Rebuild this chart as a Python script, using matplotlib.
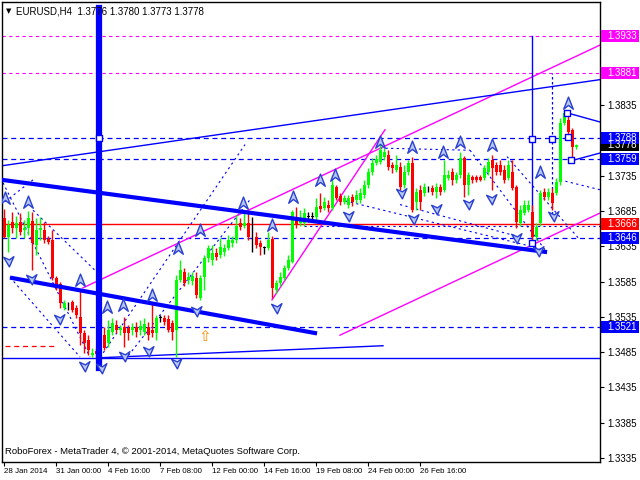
import numpy as np
import matplotlib.pyplot as plt
from matplotlib.path import Path
from matplotlib.patches import Rectangle
from matplotlib.transforms import blended_transform_factory

# EURUSD H4 candles
opens = [1.3675, 1.3648, 1.3669, 1.3661, 1.3669, 1.3658, 1.3661, 1.3671, 1.3637, 1.3658,
         1.3658, 1.3645, 1.3644, 1.3590, 1.3582, 1.3548, 1.3553, 1.3556, 1.3548, 1.3535,
         1.3512, 1.3502, 1.3481, 1.3486, 1.3478, 1.3509, 1.3498, 1.3514, 1.3523, 1.3516,
         1.3521, 1.3519, 1.3516, 1.3521, 1.3516, 1.3514, 1.3521, 1.3516, 1.3512, 1.3534,
         1.3534, 1.3532, 1.3526, 1.3516, 1.3587, 1.3599, 1.3587, 1.3586, 1.3590, 1.3562,
         1.3591, 1.3618, 1.3616, 1.3626, 1.3623, 1.3627, 1.3633, 1.3640, 1.3644, 1.3668,
         1.3664, 1.3668, 1.3648, 1.3648, 1.3640, 1.3633, 1.3633, 1.3645, 1.3573, 1.3583,
         1.3590, 1.3604, 1.3613, 1.3675, 1.3668, 1.3668, 1.3677, 1.3677, 1.3677, 1.3692,
         1.3689, 1.3694, 1.3689, 1.3719, 1.3706, 1.3698, 1.3694, 1.3705, 1.3701, 1.3701,
         1.3708, 1.3722, 1.3740, 1.3753, 1.3754, 1.3762, 1.3764, 1.3750, 1.3743, 1.3747,
         1.3722, 1.3740, 1.3753, 1.3698, 1.3715, 1.3711, 1.3716, 1.3718, 1.3712, 1.3719,
         1.3715, 1.3732, 1.3740, 1.3729, 1.3736, 1.3760, 1.3722, 1.3733, 1.3733, 1.3733,
         1.3732, 1.3740, 1.3757, 1.3750, 1.3750, 1.3743, 1.3732, 1.3740, 1.3719, 1.3668,
         1.3682, 1.3686, 1.3684, 1.3648, 1.3668, 1.3712, 1.3705, 1.3711, 1.3711, 1.3726,
         1.3810, 1.3814, 1.3800, 1.3776]
highs = [1.3688, 1.3672, 1.3684, 1.3678, 1.3682, 1.3672, 1.3685, 1.3684, 1.3675, 1.3677,
         1.3669, 1.3650, 1.3658, 1.3593, 1.3584, 1.3559, 1.3556, 1.3559, 1.3552, 1.3573,
         1.3516, 1.3509, 1.3491, 1.3491, 1.3509, 1.3521, 1.3531, 1.3534, 1.3531, 1.3523,
         1.3535, 1.3523, 1.3526, 1.3528, 1.3531, 1.3534, 1.3528, 1.3555, 1.3538, 1.3538,
         1.3538, 1.3538, 1.3531, 1.3594, 1.3616, 1.3604, 1.3599, 1.3599, 1.3599, 1.3594,
         1.3623, 1.3637, 1.3637, 1.3633, 1.3647, 1.3638, 1.3651, 1.3650, 1.3679, 1.3675,
         1.3684, 1.3682, 1.3677, 1.3655, 1.3644, 1.3635, 1.3655, 1.3650, 1.3587, 1.3599,
         1.3609, 1.3623, 1.3686, 1.3691, 1.3686, 1.3689, 1.3684, 1.3684, 1.3703, 1.3711,
         1.3705, 1.3701, 1.3736, 1.3722, 1.3711, 1.3708, 1.3708, 1.3709, 1.3715, 1.3718,
         1.3729, 1.3746, 1.3760, 1.3764, 1.3781, 1.3774, 1.3771, 1.3754, 1.3764, 1.3754,
         1.3750, 1.3757, 1.3762, 1.3718, 1.3722, 1.3725, 1.3720, 1.3722, 1.3725, 1.3723,
         1.3757, 1.3743, 1.3746, 1.3740, 1.3769, 1.3763, 1.3740, 1.3736, 1.3736, 1.3736,
         1.3750, 1.3760, 1.3764, 1.3754, 1.3757, 1.3750, 1.3757, 1.3757, 1.3722, 1.3694,
         1.3701, 1.3701, 1.3694, 1.3668, 1.3715, 1.3718, 1.3718, 1.3718, 1.3732, 1.3817,
         1.3828, 1.3824, 1.3803, 1.3780]
lows = [1.3647, 1.3627, 1.3654, 1.3647, 1.3651, 1.3647, 1.3651, 1.3601, 1.3623, 1.3644,
        1.3640, 1.3638, 1.3587, 1.3573, 1.3548, 1.3545, 1.3545, 1.3542, 1.3534, 1.3495,
        1.3484, 1.3481, 1.3478, 1.3478, 1.3474, 1.3488, 1.3492, 1.3509, 1.3512, 1.3509,
        1.3492, 1.3502, 1.3509, 1.3506, 1.3509, 1.3509, 1.3502, 1.3506, 1.3502, 1.3528,
        1.3523, 1.3514, 1.3502, 1.3478, 1.3584, 1.3579, 1.3582, 1.3580, 1.3562, 1.3559,
        1.3573, 1.3613, 1.3609, 1.3616, 1.3618, 1.3621, 1.3630, 1.3634, 1.3640, 1.3658,
        1.3661, 1.3644, 1.3627, 1.3633, 1.3623, 1.3624, 1.3630, 1.3562, 1.3569, 1.3579,
        1.3587, 1.3601, 1.3611, 1.3661, 1.3664, 1.3664, 1.3669, 1.3672, 1.3672, 1.3684,
        1.3686, 1.3684, 1.3686, 1.3701, 1.3694, 1.3695, 1.3689, 1.3692, 1.3696, 1.3696,
        1.3703, 1.3718, 1.3736, 1.3750, 1.3752, 1.3757, 1.3743, 1.3739, 1.3740, 1.3715,
        1.3718, 1.3736, 1.3684, 1.3686, 1.3686, 1.3706, 1.3712, 1.3708, 1.3703, 1.3708,
        1.3712, 1.3729, 1.3722, 1.3725, 1.3732, 1.3705, 1.3708, 1.3725, 1.3726, 1.3728,
        1.3729, 1.3736, 1.3715, 1.3736, 1.3736, 1.3725, 1.3729, 1.3715, 1.3661, 1.3664,
        1.3679, 1.3684, 1.3640, 1.3644, 1.3664, 1.3701, 1.3701, 1.3686, 1.3708, 1.3722,
        1.3807, 1.3793, 1.3762, 1.3773]
closes = [1.3648, 1.3665, 1.3661, 1.3668, 1.3655, 1.3661, 1.3675, 1.3640, 1.3658, 1.3661,
          1.3644, 1.3641, 1.3590, 1.3580, 1.3555, 1.3555, 1.3553, 1.3545, 1.3538, 1.3512,
          1.3498, 1.3488, 1.3484, 1.3482, 1.3506, 1.3491, 1.3516, 1.3526, 1.3516, 1.3519,
          1.3512, 1.3512, 1.3521, 1.3514, 1.3522, 1.3525, 1.3509, 1.3512, 1.3534, 1.3534,
          1.3528, 1.3516, 1.3514, 1.3587, 1.3601, 1.3583, 1.3591, 1.3593, 1.3566, 1.3590,
          1.3618, 1.3633, 1.3626, 1.3620, 1.3634, 1.3633, 1.3644, 1.3644, 1.3664, 1.3662,
          1.3668, 1.3648, 1.3648, 1.3637, 1.3634, 1.3633, 1.3644, 1.3576, 1.3583, 1.3591,
          1.3604, 1.3616, 1.3684, 1.3665, 1.3675, 1.3682, 1.3677, 1.3677, 1.3691, 1.3688,
          1.3698, 1.3689, 1.3722, 1.3703, 1.3698, 1.3703, 1.3703, 1.3698, 1.3708, 1.3711,
          1.3722, 1.3740, 1.3753, 1.3759, 1.3771, 1.3769, 1.3747, 1.3746, 1.3750, 1.3719,
          1.3740, 1.3753, 1.3686, 1.3712, 1.3698, 1.3719, 1.3716, 1.3712, 1.3719, 1.3712,
          1.3736, 1.3736, 1.3729, 1.3736, 1.3760, 1.3722, 1.3736, 1.3729, 1.3729, 1.3729,
          1.3746, 1.3754, 1.3746, 1.3740, 1.3740, 1.3729, 1.3750, 1.3718, 1.3669, 1.3686,
          1.3694, 1.3694, 1.3648, 1.3662, 1.3711, 1.3705, 1.3712, 1.3696, 1.3726, 1.3810,
          1.3824, 1.3797, 1.3776, 1.3778]

date_bars = [0, 13, 26, 39, 52, 65, 78, 91, 104]
date_labels = ['28 Jan 2014', '31 Jan 00:00', '4 Feb 16:00', '7 Feb 08:00', '12 Feb 00:00',
               '14 Feb 16:00', '19 Feb 08:00', '24 Feb 00:00', '26 Feb 16:00']
price_ticks = [1.3335, 1.3385, 1.3435, 1.3485, 1.3535, 1.3585, 1.3635, 1.3685, 1.3735,
               1.3785, 1.3835, 1.3885, 1.3935]
hidden_ticks = [1.3785, 1.3885, 1.3935]

# horizontal levels
magenta_levels = [1.3933, 1.3881]
blue_levels = [1.3788, 1.3759, 1.3646, 1.3521]
red_level = 1.3666
last_price = 1.3778

# trend lines: (bar0, price0, bar1, price1)
thick_blue = [(-0.5, 1.3729, 135.25, 1.3627), (2, 1.3590, 77.75, 1.3512)]
thin_blue = [(-0.5, 1.3749, 149, 1.3871), (-0.5, 1.3477, 149, 1.3477),
             (24, 1.3477, 94.75, 1.3494), (140.75, 1.3824, 149, 1.3811),
             (141.75, 1.3756, 149, 1.3767)]
magenta_lines = [(19.75, 1.3576, 149, 1.3920), (84, 1.3509, 149, 1.3682),
                 (67, 1.3559, 95.25, 1.3800)]
dashed_lines = [(-0.25, 1.3725, 21.5, 1.3478), (7.25, 1.3729, -0.25, 1.3696),
                (7.25, 1.3686, 24, 1.3594), (1.5, 1.3591, 19, 1.3478),
                (23.25, 1.3471, 60.25, 1.3779), (30.25, 1.3474, 61.5, 1.3701),
                (94, 1.3774, 116.5, 1.3771), (116.5, 1.3771, 135.25, 1.3630),
                (84, 1.3701, 135.25, 1.3630), (99, 1.3694, 129, 1.3648),
                (125.75, 1.3762, 144, 1.3644), (139, 1.3729, 149, 1.3715),
                (75, 1.3663, 149, 1.3663)]

up_arrows = [(0.25, 1.3703), (6, 1.3698), (19, 1.3587), (25.75, 1.3549), (29.75, 1.3552),
             (37, 1.3566), (43.5, 1.3633), (49, 1.3658), (59.75, 1.3696), (67, 1.3665),
             (72.25, 1.3705), (79, 1.3729), (82.75, 1.3736), (94, 1.3783), (102, 1.3776),
             (109.75, 1.3769), (114, 1.3783), (122, 1.3779), (134, 1.3740), (141, 1.3838)]
down_arrows = [(0.75, 1.3616), (6.5, 1.3590), (13.5, 1.3533), (19.75, 1.3467),
               (24, 1.3464), (29.75, 1.3481), (35.75, 1.3488), (42.75, 1.3471),
               (47.75, 1.3545), (67.75, 1.3549), (85.75, 1.3679), (99, 1.3712),
               (102, 1.3675), (107.75, 1.3689), (115.75, 1.3696), (121.5, 1.3703),
               (127.75, 1.3648), (133.25, 1.3630), (137, 1.3679)]
squares = [(23.75, 1.3788), (132, 1.3787), (132, 1.3640), (140.75, 1.3824),
           (141, 1.3790), (141.75, 1.3757), (137, 1.3787)]

fig = plt.figure(figsize=(6.4, 4.8), dpi=100)
ax = fig.add_axes([2 / 640, 18 / 480, 598 / 640, 460 / 480])
ax.set_xlim(-0.5, 149)
ax.set_ylim(1.33293, 1.3981)

dash = (0, (4, 3))
for lv in magenta_levels:
    ax.axhline(lv, color='#ff00ff', lw=0.8, ls=(0, (3, 3)), zorder=1)
for lv in blue_levels:
    ax.axhline(lv, color='#0000ff', lw=0.9, ls=dash, zorder=1)
ax.axhline(red_level, color='#ff0000', lw=1.0, zorder=1)
ax.plot([0.25, 12.75], [1.3494, 1.3494], color='#ff0000', lw=0.9, ls=dash, zorder=1)

for x0, y0, x1, y1 in dashed_lines:
    ax.plot([x0, x1], [y0, y1], color='#0000ff', lw=0.8, ls=(0, (2, 3)), zorder=1)
for x0, y0, x1, y1 in magenta_lines:
    ax.plot([x0, x1], [y0, y1], color='#ff00ff', lw=1.0, zorder=2)
for x0, y0, x1, y1 in thin_blue:
    ax.plot([x0, x1], [y0, y1], color='#0000ff', lw=1.0, zorder=2)
for x0, y0, x1, y1 in thick_blue:
    ax.plot([x0, x1], [y0, y1], color='#0000ff', lw=3.0, zorder=4)

# vertical marks
ax.plot([23.75, 23.75], [1.3462, 1.3973], color='#0000ff', lw=4.5, zorder=4)
ax.plot([132, 132], [1.3640, 1.3933], color='#0000ff', lw=1.0, zorder=2)
ax.plot([137, 137], [1.3680, 1.3881], color='#0000ff', lw=0.9, ls=(0, (2, 2)), zorder=2)

# candles
idx = np.arange(len(opens))
o = np.array(opens); h = np.array(highs); l = np.array(lows); c = np.array(closes)
cols = np.where(c > o, '#00ff00', np.where(c < o, '#ff0000', '#000000'))
ax.vlines(idx, l, h, colors=cols, lw=1.0, zorder=3)
body = np.maximum(np.abs(c - o), 0.00007)
ax.bar(idx, body, bottom=np.minimum(o, c), width=0.75, color=cols, zorder=3)

# arrow markers
up_path = Path([(0, 1), (0.75, -0.9), (0, -0.3), (-0.75, -0.9), (0, 1)],
               [Path.MOVETO, Path.LINETO, Path.LINETO, Path.LINETO, Path.CLOSEPOLY])
dn_path = Path([(0.3, -1), (1, 0.6), (0.3, 0.1), (-0.6, 0.5), (0.3, -1)],
               [Path.MOVETO, Path.LINETO, Path.LINETO, Path.LINETO, Path.CLOSEPOLY])
ux, uy = zip(*up_arrows)
dx, dy = zip(*down_arrows)
ax.scatter(ux, uy, marker=up_path, s=85, facecolor='#b8c8f4', edgecolor='#2a40d0',
           lw=1.0, zorder=5)
ax.scatter(dx, dy, marker=dn_path, s=85, facecolor='#b8c8f4', edgecolor='#2a40d0',
           lw=1.0, zorder=5)
sx, sy = zip(*squares)
ax.scatter(sx, sy, marker='s', s=16, facecolor='white', edgecolor='#0000ff', lw=1.0, zorder=6)
ax.text(50.25, 1.3507, '\u21e7', color='#ff8c00', fontsize=11, ha='center', va='center', zorder=5)

# axes styling
for sp in ax.spines.values():
    sp.set_color('black')
    sp.set_linewidth(1.0)
ax.yaxis.tick_right()
ax.set_yticks(price_ticks)
ax.set_yticklabels(['' if p in hidden_ticks else '%.4f' % p for p in price_ticks],
                   fontsize=7, family='Liberation Sans')
ax.tick_params(axis='y', length=3, pad=2)
ax.set_xticks(date_bars)
ax.set_xticklabels(date_labels, fontsize=5.7, family='Liberation Sans', ha='left')
ax.tick_params(axis='x', length=3, pad=1)

# price boxes on the right scale
tr = blended_transform_factory(ax.transAxes, ax.transData)
box_h = 0.0017
boxes = [(last_price, '#000000')] + [(lv, '#ff00ff') for lv in magenta_levels] + \
        [(lv, '#0000ff') for lv in blue_levels] + [(red_level, '#ff0000')]
for lv, col in boxes:
    ax.add_patch(Rectangle((1.0017, lv - box_h / 2), 0.0635, box_h, transform=tr,
                           facecolor=col, edgecolor='none', clip_on=False, zorder=10))
    ax.text(1.012, lv, '%.4f' % lv, transform=tr, color='white', fontsize=7,
            family='Liberation Sans', va='center', ha='left', clip_on=False, zorder=11)

fig.text(6 / 640, 1 - 11 / 480, '\u25bc', fontsize=5, va='center', ha='left')
fig.text(16 / 640, 1 - 11 / 480, 'EURUSD,H4  1.3776 1.3780 1.3773 1.3778', fontsize=7,
         family='Liberation Sans', va='center', ha='left')
fig.text(5 / 640, 1 - 452 / 480, 'RoboForex - MetaTrader 4, \u00a9 2001-2014, MetaQuotes Software Corp.',
         fontsize=6.8, family='Liberation Sans', va='center', ha='left')

fig.savefig('out.png', dpi=100, facecolor='white')
